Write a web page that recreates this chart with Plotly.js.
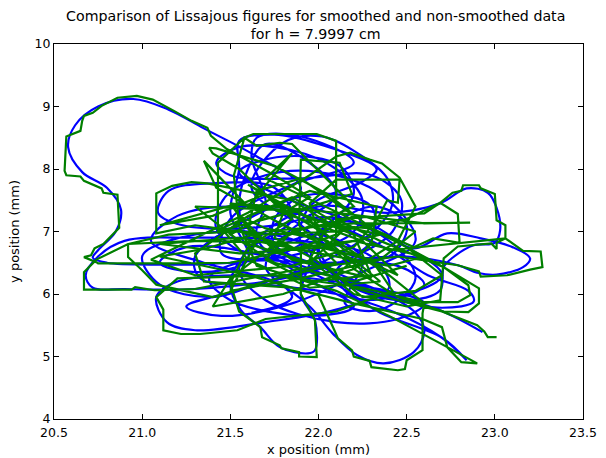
<!DOCTYPE html>
<html><head><meta charset="utf-8">
<script src="https://cdn.plot.ly/plotly-3.0.1.min.js"></script>
<style>html,body{margin:0;padding:0;background:#fff}</style></head>
<body><div id="chart" style="width:606px;height:458px"></div>
<script>
const titleText = "Comparison of Lissajous figures for smoothed and non-smoothed data<br>for h = 7.9997 cm";
const xLabel = "x position (mm)";
const yLabel = "y position (mm)";
const smoothedPath = [
[22.93,5.39],[22.69,5.74],[22.4,6.0],[22.05,6.4],[21.75,6.8],[21.75,7.2],[21.9,7.7],[21.65,8.2],[21.35,8.65],[21.15,8.95],[20.95,9.12],[20.75,9.0],[20.62,8.7],[20.58,8.35],[20.66,7.95],[20.8,7.7],[20.88,7.35],[20.85,7.0],[20.75,6.7],[20.72,6.58],[20.8,6.5],[21.1,6.47],[21.5,6.5],[21.9,6.65],[22.2,7.0],[22.25,7.5],[22.1,8.0],[21.85,8.3],[21.55,8.35],[21.42,8.1],[21.5,7.9],[21.9,7.85],[22.3,7.9],[22.47,7.5],[22.42,7.0],[22.2,6.6],[21.8,6.25],[21.3,6.08],[20.9,6.08],[20.72,6.1],[20.68,6.3],[20.75,6.6],[20.9,6.85],[21.3,6.9],[21.9,6.85],[22.3,6.6],[22.4,6.1],[22.1,5.75],[21.7,5.55],[21.3,5.42],[21.14,5.55],[21.08,5.95],[21.2,6.2],[21.7,6.3],[22.2,6.15],[22.6,5.85],[22.45,5.6],[22.1,5.55],[21.7,5.9],[21.55,6.4],[21.7,7.0],[22.0,7.4],[22.4,7.3],[22.69,7.45],[22.84,7.69],[22.96,7.62],[23.01,7.38],[23.03,7.02],[23.0,6.82],[22.88,6.78],[22.76,6.58],[22.71,6.43],[22.69,6.06],[22.5,5.9],[22.2,6.1],[22.0,6.6],[22.05,7.1],[22.3,7.1],[22.54,6.73],[22.73,6.97],[22.92,6.89],[23.1,6.75],[23.2,6.57],[23.16,6.43],[23.01,6.31],[22.9,6.34],[22.79,6.46],[22.5,6.6],[22.1,6.5],[21.7,6.2],[21.4,5.95],[21.1,6.15],[21.0,6.6],[21.15,6.85],[21.6,7.0],[21.95,6.7],[21.9,6.0],[21.98,5.58],[21.98,5.1],[21.94,5.05],[21.78,5.15],[21.67,5.47],[21.56,5.74],[21.5,6.17],[21.6,6.7],[21.85,7.2],[21.75,7.7],[21.4,7.77],[21.15,7.65],[21.09,7.3],[21.2,7.12],[21.55,7.05],[21.9,7.2],[22.1,7.6],[21.95,8.1],[21.7,8.4],[21.6,8.0],[21.55,7.4],[21.6,6.9],[21.95,6.4],[22.3,6.1],[22.55,5.7],[22.6,5.4],[22.54,5.07],[22.37,4.89],[22.22,5.02],[22.08,5.37],[21.95,5.8],[21.75,6.2],[21.35,6.5],[21.05,6.85],[21.2,7.25],[21.6,7.4],[22.05,7.15],[22.4,6.7],[22.62,6.3],[22.85,6.05],[22.88,5.88],[22.7,5.78],[22.4,5.95],[22.1,6.3],[21.9,6.8],[21.95,7.4],[22.25,7.8],[22.33,8.0],[22.0,8.4],[21.75,8.55],[21.55,8.45],[21.55,8.0],[21.5,7.3],[21.6,6.55],[21.3,6.35],[21.1,6.5],[21.25,6.75],[21.7,6.6],[22.1,6.15],[22.35,5.7],[22.7,5.3],[22.84,4.94],[22.7,5.3],[22.42,5.72],[22.1,6.0],[21.7,6.15],[21.33,6.25],[21.3,6.6],[21.6,7.2],[21.98,7.6],[22.3,7.4],[22.3,6.85],[22.1,6.35],[22.2,5.95],[22.5,6.0],[22.7,6.3],[22.5,6.75],[22.15,7.2],[21.8,7.55],[21.55,7.95],[21.8,8.2],[22.12,8.05],[22.2,7.6],[22.0,7.0],[21.75,6.6],[21.45,6.65],[21.5,7.2],[21.85,7.75],[22.2,8.1],[21.9,8.52],[21.65,8.5],[21.62,8.2],[21.7,7.5],[21.65,6.9],[21.9,6.3],[22.2,5.8],[21.95,5.65],[21.5,5.9],[21.38,6.25],[21.55,6.5],[22.0,6.5],[22.45,6.45],[22.6,6.15],[22.45,5.95],[22.15,6.2],[22.0,6.8],[22.3,7.4],[22.5,7.1],[22.4,6.6],[22.1,6.7],[21.9,7.1],[21.62,7.7],[21.8,8.42],[22.02,8.52],[22.25,8.2],[22.39,7.85],[22.42,7.45],[22.33,7.05],[22.05,6.55],[21.6,6.1],[21.25,5.8],[21.45,5.65],[21.85,5.85],[22.25,6.35],[22.55,6.85],[22.35,7.6],[22.0,7.95],[21.7,7.9],[21.47,7.55],[21.42,7.05],[21.6,6.65],[22.0,6.95],[22.25,6.55],[22.15,5.85],[22.35,5.75],[22.55,6.25],[22.35,6.95],[21.95,7.2],[21.7,6.45],[21.85,5.95],[21.62,5.7]
];
const rawPath = [
[23.01,5.31],[22.96,5.31],[22.94,5.4],[22.9,5.5],[22.7,5.72],[22.45,5.9],[22.2,6.1],[21.98,6.55],[21.75,6.9],[21.8,7.3],[21.95,7.55],[21.75,7.9],[21.48,8.32],[21.39,8.53],[21.37,8.66],[21.28,8.77],[21.18,8.93],[21.06,9.11],[20.97,9.17],[20.86,9.14],[20.77,9.01],[20.72,8.9],[20.67,8.85],[20.66,8.77],[20.65,8.61],[20.57,8.52],[20.56,7.97],[20.57,7.9],[20.65,7.88],[20.67,7.81],[20.77,7.69],[20.78,7.62],[20.86,7.59],[20.87,7.06],[20.78,6.8],[20.73,6.73],[20.71,6.62],[20.67,6.59],[20.74,6.51],[20.75,6.49],[21.12,6.49],[21.5,6.5],[21.9,6.75],[22.1,6.95],[22.1,7.6],[22.1,8.45],[21.99,8.56],[21.63,8.56],[21.58,8.5],[21.43,8.1],[21.43,7.0],[21.9,7.35],[22.19,7.6],[22.14,7.97],[22.12,8.1],[21.9,8.15],[21.89,7.1],[22.1,6.5],[21.7,6.3],[21.3,6.08],[21.07,6.06],[20.96,6.11],[20.94,6.07],[20.67,6.07],[20.67,6.35],[20.74,6.55],[20.92,6.8],[21.3,6.85],[21.9,6.82],[22.3,6.55],[22.42,6.05],[22.1,5.72],[21.7,5.6],[21.54,5.42],[21.33,5.36],[21.22,5.36],[21.12,5.42],[21.12,5.75],[21.08,5.95],[21.2,6.25],[21.75,6.3],[22.25,6.1],[22.59,5.87],[22.79,5.87],[22.86,5.98],[22.85,6.14],[22.71,6.43],[22.35,6.85],[22.1,7.2],[22.6,7.29],[22.69,7.46],[22.76,7.62],[22.81,7.65],[22.82,7.74],[22.91,7.74],[22.92,7.69],[23.0,7.6],[23.01,7.18],[23.06,7.1],[23.06,6.89],[23.01,6.82],[23.01,6.72],[22.98,6.81],[22.79,6.76],[22.75,6.67],[22.71,6.57],[22.69,5.9],[22.5,5.8],[22.2,6.0],[21.95,6.55],[22.05,7.1],[22.3,7.05],[22.54,6.75],[22.65,6.89],[22.8,6.82],[22.79,7.28],[22.69,7.46],[22.5,7.2],[22.1,7.0],[21.7,6.95],[21.3,7.1],[21.08,6.97],[21.08,7.29],[21.08,7.61],[21.17,7.73],[21.28,7.79],[21.37,7.77],[21.5,7.7],[21.85,7.5],[22.05,7.15],[22.4,6.7],[23.06,6.89],[23.16,6.69],[23.26,6.68],[23.27,6.43],[23.2,6.39],[23.07,6.3],[22.92,6.28],[22.91,6.36],[22.79,6.46],[22.45,6.6],[22.05,6.45],[21.7,6.2],[21.4,5.95],[21.08,6.15],[21.0,6.38],[20.92,6.59],[20.92,6.8],[21.15,6.95],[21.55,7.0],[21.9,6.7],[21.9,6.0],[21.98,5.58],[21.99,4.99],[21.89,5.0],[21.89,5.07],[21.79,5.13],[21.78,5.18],[21.68,5.31],[21.67,5.47],[21.55,5.72],[21.5,6.17],[21.6,6.75],[21.85,7.2],[21.7,7.6],[21.4,7.25],[21.1,7.1],[21.55,7.45],[22.1,7.3],[22.6,7.13],[22.86,7.14],[22.2,7.13],[21.7,7.0],[21.35,6.72],[21.1,6.6],[21.6,6.3],[22.0,5.98],[22.09,5.42],[22.11,5.29],[22.19,5.1],[22.2,5.0],[22.29,4.93],[22.3,4.83],[22.45,4.78],[22.49,4.8],[22.5,4.94],[22.59,5.1],[22.59,5.69],[22.6,5.85],[22.4,6.3],[22.1,6.85],[21.75,7.45],[21.55,8.0],[21.4,8.25],[21.38,8.34],[21.42,8.33],[21.75,8.05],[22.05,7.6],[22.3,7.05],[22.71,6.43],[22.91,6.09],[22.91,5.85],[22.85,5.71],[22.71,5.72],[22.45,5.95],[22.2,6.4],[22.0,6.95],[21.95,7.45],[22.1,7.83],[22.46,7.83],[22.45,7.46],[22.39,7.5],[22.33,7.18],[22.2,6.75],[21.85,6.45],[21.3,6.3],[21.05,6.55],[21.6,7.3],[21.95,7.9],[22.1,8.2],[22.18,8.26],[22.29,8.15],[22.36,8.09],[22.46,7.86],[22.55,7.4],[22.45,6.85],[22.2,6.4],[21.8,6.0],[21.4,5.8],[21.5,6.25],[21.8,6.9],[22.2,7.4],[21.85,8.4],[21.78,8.42],[21.65,8.37],[21.58,8.5],[21.52,7.9],[21.55,7.1],[21.65,6.45],[22.1,6.05],[22.4,5.65],[22.73,5.15],[22.81,4.91],[22.9,4.89],[22.73,5.15],[22.7,5.47],[22.59,5.6],[22.2,5.85],[21.85,6.1],[21.35,6.2],[21.3,6.65],[21.6,7.25],[21.95,7.65],[22.33,7.4],[22.3,6.8],[22.1,6.3],[22.25,5.95],[22.55,6.05],[22.7,6.3],[22.5,6.75],[22.15,7.25],[21.7,7.85],[21.85,8.25],[21.6,7.4],[21.35,8.13],[21.42,7.7],[21.8,7.1],[22.2,6.55],[22.35,6.2],[21.95,6.1],[21.6,6.55],[21.45,7.05],[21.85,7.55],[22.15,7.05],[21.95,6.5],[21.55,6.85],[21.3,7.4],[21.75,7.35],[22.25,6.85],[22.45,6.3],[22.15,6.7],[21.9,7.3],[21.5,7.45],[21.65,6.85],[21.5,6.05],[21.9,6.25],[22.35,6.55],[22.55,7.0],[22.25,7.25],[21.85,7.0],[21.7,6.55],[21.95,6.2],[22.3,6.3],[22.2,6.95],[21.8,7.4],[21.6,7.75],[21.95,7.2],[22.35,6.95],[22.05,6.75],[21.55,6.65],[21.1,6.8],[21.55,6.9],[22.0,6.65],[22.4,6.45],[22.6,6.6],[22.2,6.85],[21.75,6.7],[21.55,7.25],[21.7,7.05],[22.05,6.85],[22.3,6.25],[21.85,6.55],[21.6,7.05],[21.65,7.65],[21.9,7.85],[22.2,7.25],[21.95,6.9],[21.7,7.25],[21.5,6.95],[21.75,6.5],[22.2,6.2],[22.5,6.45]
];
const traces = [
  {x: smoothedPath.map(p => p[0]), y: smoothedPath.map(p => p[1]), mode: "lines", line: {color: "#0000ff", width: 2.2, shape: "spline", smoothing: 1}, hoverinfo: "skip"},
  {x: rawPath.map(p => p[0]), y: rawPath.map(p => p[1]), mode: "lines", line: {color: "#007f00", width: 2.2}, hoverinfo: "skip"}
];
const tickFont = {family: "DejaVu Sans", size: 12.5, color: "#000"};
const labelFont = {family: "DejaVu Sans", size: 13, color: "#000"};
const axisBase = {showgrid: false, zeroline: false, showline: true, linecolor: "#000", linewidth: 1, mirror: "ticks", ticks: "inside", ticklen: 5, tickwidth: 1, tickcolor: "#000", tickfont: tickFont};
const layout = {
  width: 606, height: 458, paper_bgcolor: "#fff", plot_bgcolor: "#fff", showlegend: false,
  margin: {l: 54, r: 23, t: 44, b: 39},
  title: {text: titleText, font: {family: "DejaVu Sans", size: 14.2, color: "#000"}, x: 0.521, xanchor: "center", y: 0.955, yanchor: "top"},
  xaxis: Object.assign({}, axisBase, {range: [20.5, 23.5], ticklabelstandoff: 2, tickvals: [20.5,21,21.5,22,22.5,23,23.5], ticktext: ["20.5","21.0","21.5","22.0","22.5","23.0","23.5"], title: {text: xLabel, font: labelFont, standoff: 5}}),
  yaxis: Object.assign({}, axisBase, {range: [4, 10], tickvals: [4,5,6,7,8,9,10], ticktext: ["4","5","6","7","8","9","10"], title: {text: yLabel, font: labelFont, standoff: 12}})
};
Plotly.newPlot("chart", traces, layout, {displayModeBar: false, staticPlot: true});
</script></body></html>
